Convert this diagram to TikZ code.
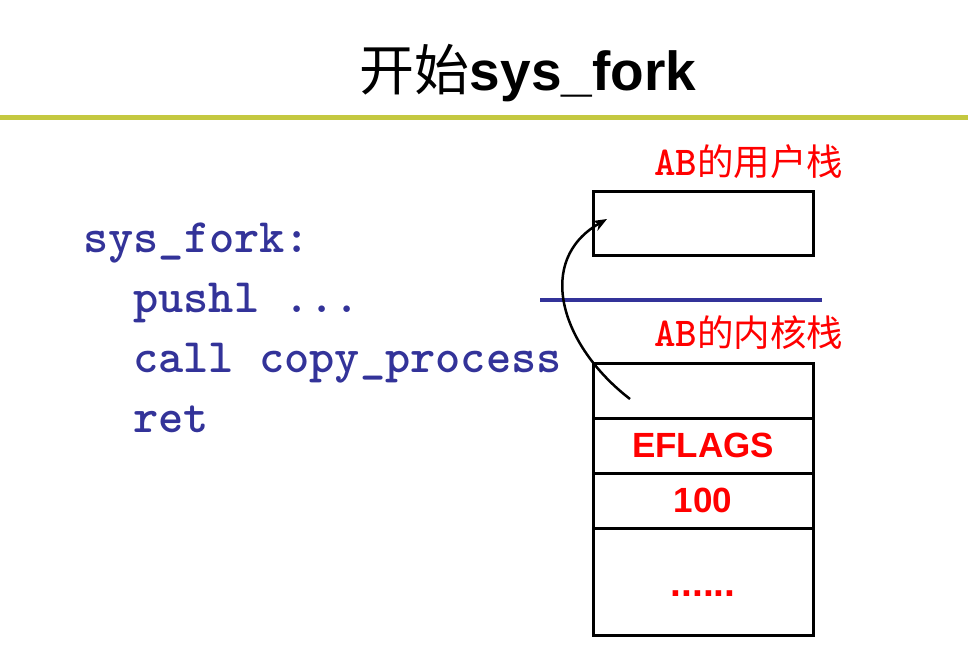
\documentclass[tikz,border=0pt]{standalone}
\usepackage{fontspec}
\setmainfont{Liberation Sans}
\newfontfamily\cjk{Noto Sans CJK SC}
\usetikzlibrary{arrows.meta}
\definecolor{codeblue}{RGB}{51,51,153}
\definecolor{olivebar}{RGB}{196,200,64}
\definecolor{lblred}{RGB}{255,0,0}
\tikzset{
  codeline/.style={anchor=base west,inner sep=0pt,text=codeblue,font=\ttfamily\bfseries\fontsize{48}{50}\selectfont},
  stacklbl/.style={anchor=base west,inner sep=0pt,text=lblred,font=\fontsize{36.5}{38}\selectfont},
  cellbox/.style={draw=black,line width=3pt},
  celltext/.style={text=lblred,font=\bfseries\fontsize{35}{38}\selectfont,inner sep=0pt},
}
\begin{document}
\begin{tikzpicture}[x=1pt,y=-1pt]
\useasboundingbox (0,0) rectangle (968,657);
% title
\node[anchor=base,inner sep=0pt] (title) at (528,90)
  {\fontsize{55}{60}\selectfont{\cjk 开始}\textbf{sys\_fork}};
\draw[olivebar,line width=5pt] (0,117) -- (968,117);
% code
\node[codeline] (c1) at (83,252) {sys\_fork:};
\node[codeline] (c2) at (133,312) {pushl ...};
\node[codeline] (c3) at (133,372) {call copy\_process};
\node[codeline] (c4) at (133,432) {ret};
% user stack
\node[stacklbl] (ulbl) at (654,175) {{\ttfamily\bfseries\fontsize{41}{40}\selectfont AB}{\cjk 的用户栈}};
\draw[cellbox] (593,191) rectangle (813,255);
\coordinate (ubox) at (703,223);
% separator
\draw[codeblue,line width=4pt] (540,300) -- (822,300);
% kernel stack
\node[stacklbl] (klbl) at (654,346) {{\ttfamily\bfseries\fontsize{41}{40}\selectfont AB}{\cjk 的内核栈}};
\draw[cellbox] (593,363) rectangle (813,635);
\draw[cellbox] (593,418) -- (813,418);
\draw[cellbox] (593,473) -- (813,473);
\draw[cellbox] (593,528) -- (813,528);
\node[celltext] (eflags) at (703,445.5) {EFLAGS};
\node[celltext] (hund) at (703,500.5) {100};
\node[celltext,anchor=base,font=\bfseries\fontsize{39}{40}\selectfont] (dots) at (703,596) {......};
% arrow
\coordinate (astart) at (630,399);
\coordinate (aend) at (607,219);
\draw[line width=2.5pt,-{Stealth[length=14pt,width=11pt]}] (astart) .. controls (560,345) and (535,260) .. (aend);
\end{tikzpicture}
\end{document}
